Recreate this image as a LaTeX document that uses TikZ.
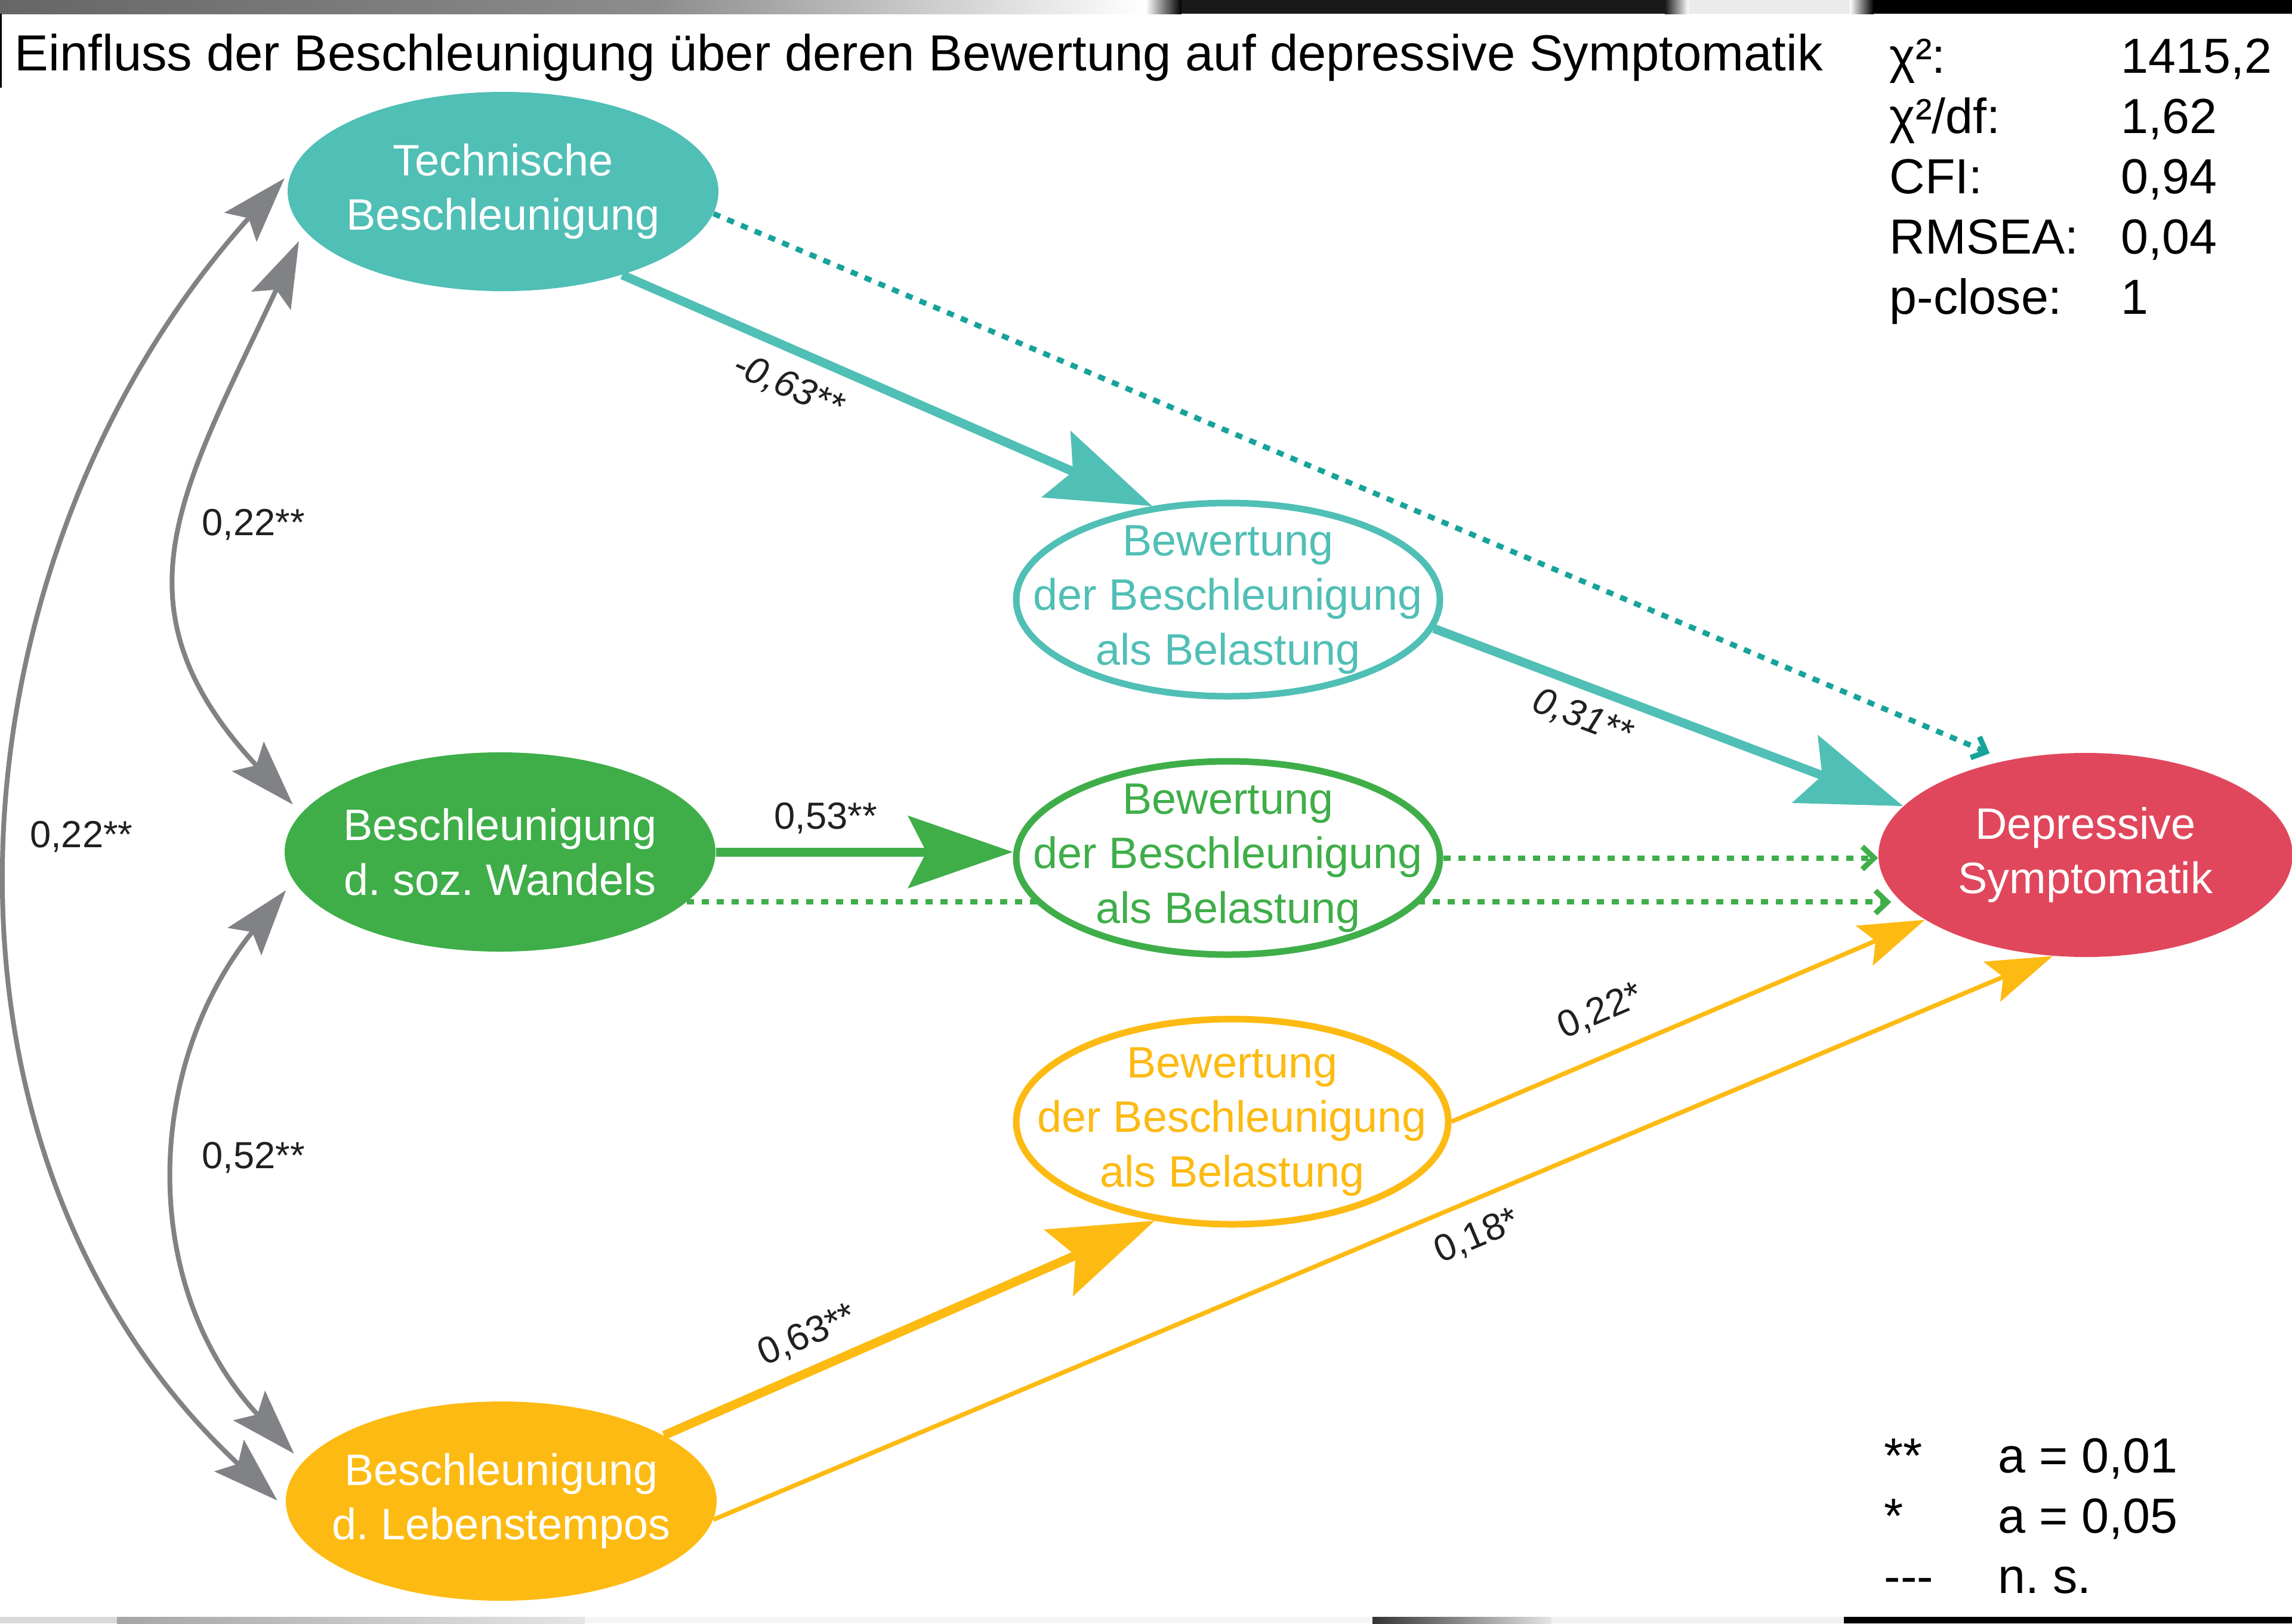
\documentclass[tikz,border=0pt]{standalone}
\usepackage{fontspec}
\setmainfont{Liberation Sans}
\frenchspacing
\usetikzlibrary{shapes.geometric, arrows.meta, positioning, calc, backgrounds}
\definecolor{semTeal}{HTML}{50BFB5}
\definecolor{semTealDot}{HTML}{17A39A}
\definecolor{semGreen}{HTML}{3FAE49}
\definecolor{semYellow}{HTML}{FDBA12}
\definecolor{semRed}{HTML}{E1475C}
\definecolor{semGray}{HTML}{808285}
\definecolor{semInk}{HTML}{231F20}
\tikzset{
  semvar/.style={ellipse, inner xsep=-1.5cm, inner ysep=-0.6cm, align=center,
                 font=\fontsize{21}{26}\selectfont,
                 minimum width=7.22cm, minimum height=3.34cm},
  semlat/.style={semvar, fill=#1, text=white},
  semeval/.style={semvar, draw=#1, line width=0.11cm, fill=white, text=#1,
                  minimum width=7.1cm, minimum height=3.24cm},
  semsig/.style={draw=#1, line width=0.15cm,
                 -{Stealth[length=1.75cm, width=1.2cm, inset=0.3cm]}},
  semweak/.style={draw=#1, line width=0.075cm,
                  -{Stealth[length=1.1cm, width=0.72cm, inset=0.2cm]}},
  semns/.style={draw=#1, line width=0.09cm, dash pattern=on 0.12cm off 0.13cm,
                -{Straight Barb[length=0.2cm, width=0.38cm]}},
  semcov/.style={draw=semGray, line width=0.08cm, shorten <=0.2cm, shorten >=0.2cm,
                 {Stealth[length=1.1cm, width=0.72cm, inset=0.2cm]}-{Stealth[length=1.1cm, width=0.72cm, inset=0.2cm]}},
  semcoef/.style={font=\fontsize{18}{21}\selectfont, text=semInk, inner sep=2pt},
  semfit/.style={font=\fontsize{23.5}{28.8}\selectfont, text=black, inner sep=0pt, anchor=base west},
}

\begin{document}
\begin{tikzpicture}
\useasboundingbox (0,0) rectangle (38.41,-27.21);

\node[semlat=semTeal] (tech) at (8.43,-3.21) {Technische\\Beschleunigung};
\node[semlat=semGreen] (gsoz) at (8.38,-14.28) {Beschleunigung\\d. soz. Wandels};
\node[semlat=semYellow] (leb) at (8.40,-25.16) {Beschleunigung\\d. Lebenstempos};
\node[semeval=semTeal] (tbew) at (20.58,-10.05) {Bewertung\\der Beschleunigung\\als Belastung};
\node[semeval=semGreen] (gbew) at (20.58,-14.38) {Bewertung\\der Beschleunigung\\als Belastung};
\node[semeval=semYellow, minimum width=7.24cm, minimum height=3.44cm] (ybew) at (20.65,-18.80) {Bewertung\\der Beschleunigung\\als Belastung};
\node[semlat=semRed, minimum width=6.94cm, minimum height=3.42cm] (dep) at (34.95,-14.33) {Depressive\\Symptomatik};

\node[semfit, font=\fontsize{24.2}{28.8}\selectfont] (title) at (0.24,-1.18) {Einfluss der Beschleunigung über deren Bewertung auf depressive Symptomatik};
\node[semfit] (fit) at (31.66,-1.22) {\begin{tabular}[t]{@{}p{3.88cm}@{}l@{}}
  χ²: & 1415,2\\ χ²/df: & 1,62\\ CFI: & 0,94\\ RMSEA: & 0,04\\ p-close: & 1
\end{tabular}};
\node[semfit] (sig) at (31.57,-24.68) {\begin{tabular}[t]{@{}p{1.91cm}@{}l@{}}
  {**} & a = 0,01\\ {*} & a = 0,05\\ -{}-{}- & n. s.
\end{tabular}};

\begin{scope}[on background layer]
\shade[left color=black!60, right color=black!45] (0,0) rectangle (11,-0.23);
\shade[left color=black!45, right color=white] (11,0) rectangle (19.2,-0.23);
\shade[left color=white, right color=black] (19.2,0) rectangle (19.8,-0.23);
\fill[black!90] (19.8,0) rectangle (27.9,-0.23);
\shade[left color=black!90, right color=white] (27.9,0) rectangle (28.3,-0.23);
\fill[white!92!black] (28.3,0) rectangle (31.0,-0.23);
\shade[left color=white, right color=black] (31.0,0) rectangle (31.4,-0.23);
\fill[black] (31.4,0) rectangle (38.41,-0.23);
\fill[gray!30] (0,-27.10) rectangle (1.96,-27.21);
\shade[left color=gray!70, right color=gray!20] (1.96,-27.10) rectangle (9.8,-27.21);
\fill[gray!8] (9.8,-27.10) rectangle (23.0,-27.21);
\shade[left color=black!80, right color=gray!20] (23.0,-27.10) rectangle (26.0,-27.21);
\fill[gray!12] (26.0,-27.10) rectangle (30.9,-27.21);
\fill[black] (30.9,-27.10) rectangle (38.41,-27.21);
\draw[black, line width=0.03cm] (0.015,-0.23) -- (0.015,-1.47);

\draw[semns=semTealDot, shorten >=0.3cm] (tech.-6) -- (dep.130);
\draw[semsig=semTeal] (tech.-35) -- node[semcoef, sloped, below=0.2cm, pos=.34, font=\fontsize{18}{21}\selectfont\itshape]{-0,63**} (tbew.129);
\draw[semsig=semTeal] (tbew.-8) -- node[semcoef, sloped, below=0.12cm, pos=.34, font=\fontsize{18}{21}\selectfont\itshape]{0,31**} (dep.165);

\draw[semsig=semGreen] (gsoz.east) -- node[semcoef, above=0.16cm, pos=.37]{0,53**} (gsoz.east -| gbew.west);
\draw[semns=semGreen] (gbew.east) -- (gbew.east -| dep.west);
\draw[semns=semGreen] (gsoz.-15) -- ($(gsoz.-15 -| dep.west)+(0.22,0)$);

\draw[semsig=semYellow] (leb.22) -- node[semcoef, sloped, above=0.16cm, pos=.32]{0,63**} (ybew.-128);
\draw[semweak=semYellow] (ybew.east) -- node[semcoef, sloped, above=0.35cm, pos=.35]{0,22*} (dep.-158);
\draw[semweak=semYellow] (leb.-5) -- node[semcoef, sloped, below=0.22cm, pos=.56]{0,18*} (dep.-108);

\draw[semcov] (tech.191) to[out=245, in=133, looseness=1.25] node[semcoef, pos=.47, right=0.15cm]{0,22**} (gsoz.169);
\draw[semcov] (gsoz.188) to[out=231, in=133, looseness=1.05] node[semcoef, pos=.47, right=0.25cm]{0,52**} (leb.169);
\draw[semcov] (tech.174) to[out=228, in=137] node[semcoef, pos=.49, right=0.15cm]{0,22**} (leb.182);
\end{scope}
\end{tikzpicture}
\end{document}
